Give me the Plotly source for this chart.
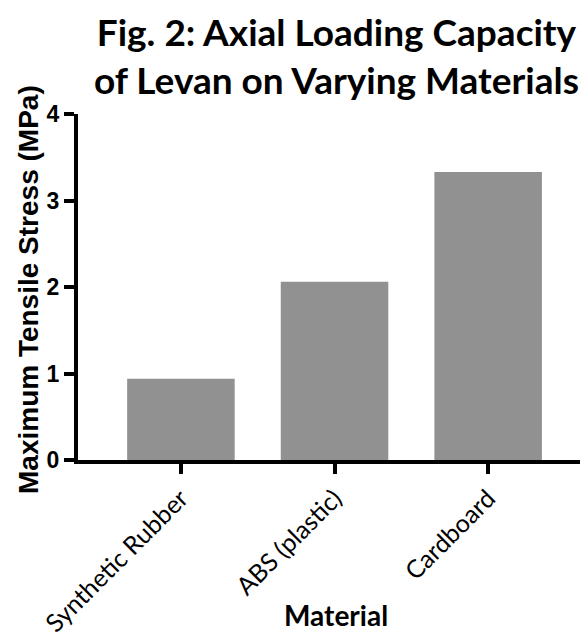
import plotly.graph_objects as go

categories = ["Synthetic Rubber", "ABS (plastic)", "Cardboard"]
values = [0.94, 2.06, 3.33]
y_ticks = [0, 1, 2, 3, 4]

# The page body has an 8px default margin; the figure is sized so that it
# fills the 588x636 window exactly.
fig = go.Figure()
fig.add_trace(go.Bar(
    x=categories, y=values,
    marker=dict(color="#919191", line=dict(width=0)),
    width=0.7,
))

fig.update_layout(
    width=580, height=628,
    margin=dict(l=70, r=0, t=106, b=176),
    plot_bgcolor="white", paper_bgcolor="white",
    showlegend=False,
    xaxis=dict(
        range=[-0.67, 2.65],
        automargin=False,
        showline=True, linecolor="black", linewidth=4,
        ticks="outside", ticklen=10, tickwidth=4, tickcolor="black",
        tickangle=-45,
        tickfont=dict(family="Lato", size=25, color="black"),
        showgrid=False, zeroline=False,
    ),
    yaxis=dict(
        range=[0, 4],
        automargin=False,
        tickvals=y_ticks,
        showline=True, linecolor="black", linewidth=4,
        ticks="outside", ticklen=10, tickwidth=4, tickcolor="black",
        tickfont=dict(family="Liberation Sans", size=23, color="black", weight="bold"),
        showgrid=False, zeroline=False,
    ),
    annotations=[
        dict(text="Fig. 2: Axial Loading Capacity<br>of Levan on Varying Materials",
             xref="paper", yref="paper", x=0.507, y=1.0, yshift=10,
             xanchor="center", yanchor="bottom", showarrow=False, align="center",
             font=dict(family="Lato", size=37, color="black", weight="bold")),
        dict(text="Material", xref="paper", yref="paper", x=0.505, y=0, yshift=-155,
             xanchor="center", yanchor="middle", showarrow=False,
             font=dict(family="Lato", size=28, color="black", weight="bold")),
        dict(text="Maximum Tensile Stress (MPa)", xref="paper", yref="paper",
             x=0, xshift=-50, y=0.5, yshift=-3, textangle=-90,
             xanchor="center", yanchor="middle", showarrow=False,
             font=dict(family="Liberation Sans", size=28, color="black", weight="bold")),
    ],
)

fig.write_html("out.html")
